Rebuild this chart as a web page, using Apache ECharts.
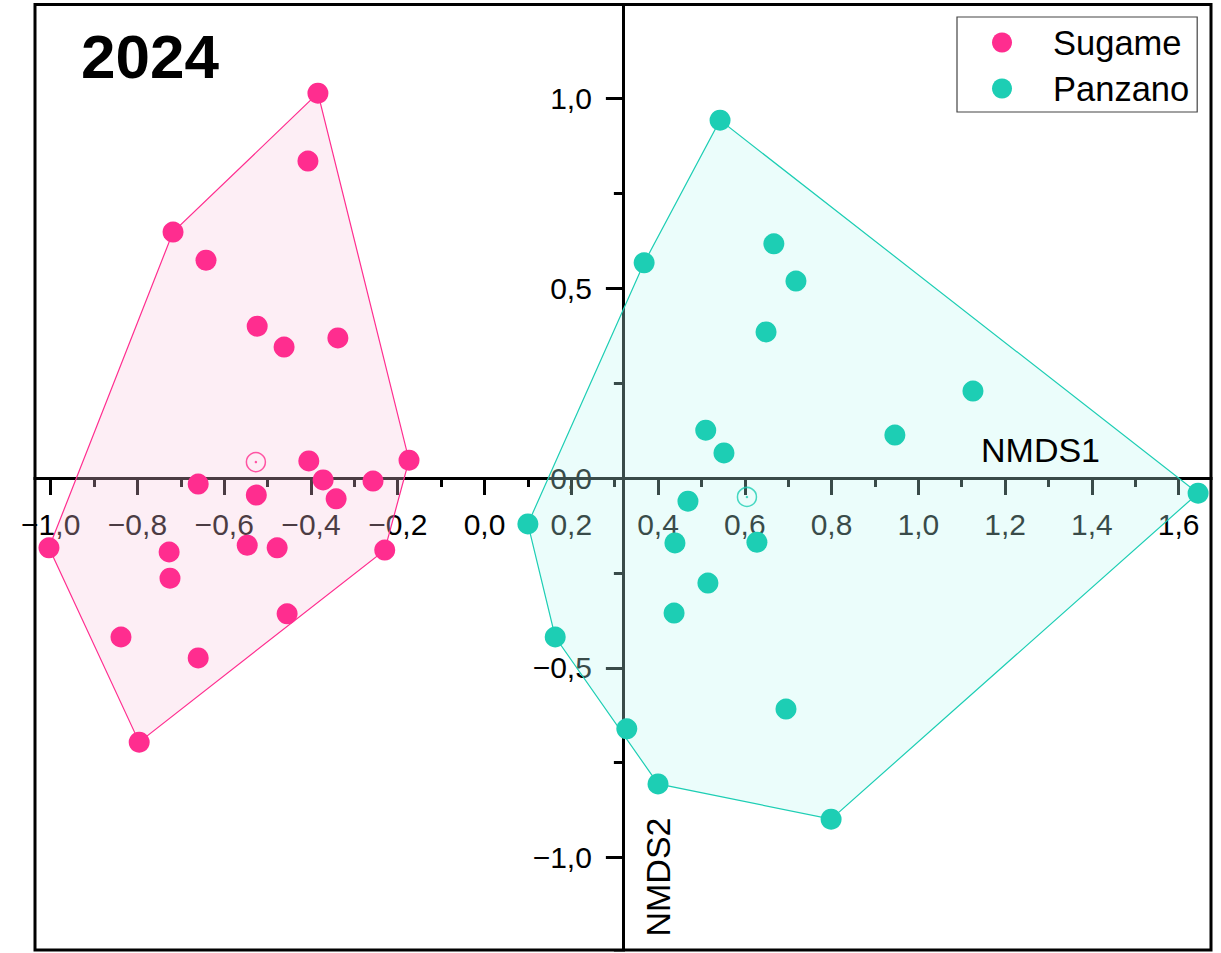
<!DOCTYPE html>
<html><head><meta charset="utf-8">
<script src="https://cdn.jsdelivr.net/npm/echarts@6/dist/echarts.min.js"></script>
<style>html,body{margin:0;padding:0;background:#fff;overflow:hidden}#c{width:1221px;height:953px}</style>
</head><body><div id="c"></div>
<script>
// ---- data ----
const sugameX = [-0.384, -0.407, -0.718, -0.642, -0.524, -0.462, -0.338, -0.405, -0.174, -0.660, -0.372, -0.257, -0.526, -0.342, -1.004, -0.727, -0.547, -0.478, -0.230, -0.725, -0.455, -0.838, -0.660, -0.796];
const sugameY = [1.014, 0.835, 0.648, 0.574, 0.400, 0.345, 0.369, 0.045, 0.047, -0.016, -0.005, -0.008, -0.045, -0.055, -0.184, -0.195, -0.177, -0.184, -0.190, -0.264, -0.358, -0.419, -0.474, -0.696];
const panzanoX = [0.543, 0.368, 0.667, 0.718, 0.649, 1.126, 0.946, 0.510, 0.552, 1.645, 0.100, 0.469, 0.439, 0.628, 0.515, 0.437, 0.163, 0.695, 0.328, 0.400, 0.799];
const panzanoY = [0.943, 0.567, 0.617, 0.519, 0.385, 0.229, 0.113, 0.126, 0.066, -0.040, -0.121, -0.061, -0.171, -0.169, -0.277, -0.356, -0.419, -0.609, -0.661, -0.806, -0.899];
const sugameCentroid = [-0.527, 0.042];
const panzanoCentroid = [0.605, -0.050];
const groupNames = ['Sugame', 'Panzano'];
const xTickRange = [-1.2, 1.8];
const xTickInterval = 0.2;
const yTickRange = [-1.5, 1.5];
const yTickInterval = 0.5;
const yAxisCrossAt = 0.319;   // x value where the NMDS2 axis crosses
const titleText = '2024';
const xName = 'NMDS1';
const yName = 'NMDS2';

// ---- layout ----
const W = 1221, H = 953;
const PX = 433.8, X0 = 484.5;   // px per unit, px of x=0
const PY = 379.5, Y0 = 478;     // px per unit, px of y=0
const FONT = "'Liberation Sans', Arial, sans-serif";
const PINK = '#ff2d8f', TEAL = '#1dceb4';

const gridLeft = X0 + xTickRange[0] * PX;
const gridWidth = (xTickRange[1] - xTickRange[0]) * PX;
const gridTop = Y0 - yTickRange[1] * PY;
const gridHeight = (yTickRange[1] - yTickRange[0]) * PY;
const yAxisPx = X0 + yAxisCrossAt * PX;

function zip(xs, ys) { return xs.map((x, i) => [x, ys[i]]); }
const sugame = zip(sugameX, sugameY);
const panzano = zip(panzanoX, panzanoY);

function hull(pts) {
  const p = pts.slice().sort((a, b) => a[0] - b[0] || a[1] - b[1]);
  const cross = (o, a, b) => (a[0] - o[0]) * (b[1] - o[1]) - (a[1] - o[1]) * (b[0] - o[0]);
  const lower = [], upper = [];
  for (const q of p) { while (lower.length >= 2 && cross(lower[lower.length - 2], lower[lower.length - 1], q) <= 0) lower.pop(); lower.push(q); }
  for (let i = p.length - 1; i >= 0; i--) { const q = p[i]; while (upper.length >= 2 && cross(upper[upper.length - 2], upper[upper.length - 1], q) <= 0) upper.pop(); upper.push(q); }
  upper.pop(); lower.pop();
  return lower.concat(upper);
}

function fmt(v) {
  if (Math.abs(v) < 1e-9) v = 0;
  return v.toFixed(1).replace('.', ',').replace('-', '\u2212');
}

function hullSeries(pts, fill, stroke) {
  const h = hull(pts);
  return {
    type: 'custom', coordinateSystem: 'cartesian2d', xAxisIndex: 0, yAxisIndex: 0,
    silent: true, clip: false, z: 2,
    data: [h[0]],
    renderItem: function (params, api) {
      return { type: 'polygon', shape: { points: h.map(q => api.coord(q)) },
        style: { fill: fill, stroke: stroke, lineWidth: 1.2 } };
    }
  };
}

const chart = echarts.init(document.getElementById('c'), null, { renderer: 'svg', width: W, height: H });

const axisLabelStyle = { show: true, color: '#000', fontSize: 30, fontFamily: FONT, margin: 31, formatter: fmt,
  showMinLabel: false, showMaxLabel: false };
const lineBlack = { color: '#000', width: 3 };
const hiddenAxis = (grid, rng) => ({ type: 'value', gridIndex: grid, show: false, min: rng[0], max: rng[1],
  axisLine: { onZero: false }, splitLine: { show: false } });

chart.setOption({
  animation: false,
  backgroundColor: '#fff',
  grid: [
    { left: gridLeft, top: gridTop, width: gridWidth, height: gridHeight, outerBoundsMode: 'none', containLabel: false, show: false },
    { left: gridLeft, top: gridTop, width: gridWidth, height: Y0 - gridTop, outerBoundsMode: 'none', containLabel: false, show: false },
    { left: yAxisPx, top: gridTop, width: 100, height: gridHeight, outerBoundsMode: 'none', containLabel: false, show: false }
  ],
  xAxis: [
    hiddenAxis(0, xTickRange),
    {
      type: 'value', gridIndex: 1, position: 'bottom', min: xTickRange[0], max: xTickRange[1], interval: xTickInterval,
      axisLine: { show: true, onZero: false, lineStyle: lineBlack },
      axisTick: { show: true, inside: false, length: 17, lineStyle: lineBlack },
      minorTick: { show: true, splitNumber: 2, length: 9, lineStyle: lineBlack },
      axisLabel: axisLabelStyle,
      splitLine: { show: false }, minorSplitLine: { show: false }
    },
    hiddenAxis(2, [0, 1])
  ],
  yAxis: [
    hiddenAxis(0, yTickRange),
    hiddenAxis(1, [0, 1]),
    {
      type: 'value', gridIndex: 2, position: 'left', min: yTickRange[0], max: yTickRange[1], interval: yTickInterval,
      axisLine: { show: true, onZero: false, lineStyle: lineBlack },
      axisTick: { show: true, inside: false, length: 17, lineStyle: lineBlack },
      minorTick: { show: true, splitNumber: 2, length: 9, lineStyle: lineBlack },
      axisLabel: axisLabelStyle,
      splitLine: { show: false }, minorSplitLine: { show: false }
    }
  ],
  legend: {
    data: groupNames, orient: 'vertical', left: 957, top: 17,
    icon: 'circle', itemWidth: 92, itemHeight: 20, itemGap: 11,
    padding: [8, 8, 6, 35], borderColor: '#444', borderWidth: 1.2, backgroundColor: '#fff',
    textStyle: { fontSize: 34.5, lineHeight: 34, color: '#000', fontFamily: FONT },
    selectedMode: false, z: 20
  },
  series: [
    hullSeries(sugame, 'rgba(248,198,222,0.3)', PINK),
    hullSeries(panzano, 'rgba(188,248,242,0.3)', TEAL),
    { name: groupNames[0], type: 'scatter', data: sugame, symbol: 'circle', symbolSize: 21, itemStyle: { color: PINK, opacity: 1 }, z: 3 },
    { name: groupNames[1], type: 'scatter', data: panzano, symbol: 'circle', symbolSize: 21, itemStyle: { color: TEAL, opacity: 1 }, z: 3 },
    { name: 'Sugame centroid', type: 'scatter', data: [sugameCentroid], symbolSize: 19, itemStyle: { color: 'rgba(0,0,0,0)', borderColor: PINK, borderWidth: 1.5 }, z: 3 },
    { name: 'Sugame centroid dot', type: 'scatter', data: [sugameCentroid], symbolSize: 2.5, itemStyle: { color: PINK }, z: 3 },
    { name: 'Panzano centroid', type: 'scatter', data: [panzanoCentroid], symbolSize: 19, itemStyle: { color: 'rgba(0,0,0,0)', borderColor: TEAL, borderWidth: 1.5 }, z: 3 },
    { name: 'Panzano centroid dot', type: 'scatter', data: [panzanoCentroid], symbolSize: 2.5, itemStyle: { color: TEAL }, z: 3 }
  ],
  graphic: [
    { type: 'rect', z: 50, silent: true, shape: { x: 0, y: 466, width: 33.5, height: 36 }, style: { fill: '#fff' } },
    { type: 'rect', z: 50, silent: true, shape: { x: 1212.5, y: 466, width: 10, height: 36 }, style: { fill: '#fff' } },
    { type: 'rect', z: 50, silent: true, shape: { x: 580, y: 0, width: 70, height: 3 }, style: { fill: '#fff' } },
    { type: 'rect', z: 50, silent: true, shape: { x: 580, y: 951.5, width: 70, height: 2 }, style: { fill: '#fff' } },
    { type: 'rect', z: 60, silent: true, shape: { x: 35, y: 4.5, width: 1176, height: 945.5 }, style: { fill: 'none', stroke: '#000', lineWidth: 3 } },
    { type: 'text', z: 60, silent: true, x: 81, y: 56, style: { text: titleText, fill: '#000', font: 'bold 62px ' + FONT, textAlign: 'left', textVerticalAlign: 'middle', verticalAlign: 'middle' } },
    { type: 'text', z: 60, silent: true, x: 981, y: 450, style: { text: xName, fill: '#000', font: '34px ' + FONT, textAlign: 'left', textVerticalAlign: 'middle', verticalAlign: 'middle' } },
    { type: 'text', z: 60, silent: true, x: 658, y: 877, rotation: Math.PI / 2, style: { text: yName, fill: '#000', font: '34px ' + FONT, textAlign: 'center', textVerticalAlign: 'middle', verticalAlign: 'middle' } }
  ]
});
</script>
</body></html>
